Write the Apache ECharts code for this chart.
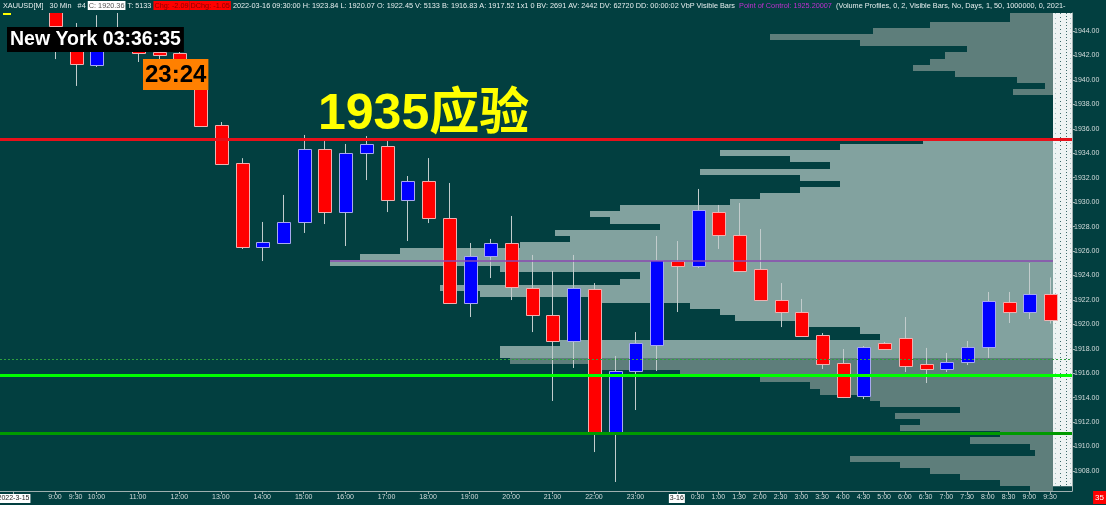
<!DOCTYPE html>
<html><head><meta charset="utf-8">
<script src="https://cdn.jsdelivr.net/npm/echarts@6/dist/echarts.min.js"></script>
<style>html,body{margin:0;padding:0;background:#023f40;}#c{width:1106px;height:505px;}</style>
</head><body><div id="c"></div>
<script>
// ---------- DATA ----------
const axisLabels = ['2022-3-15','','9:00','9:30','10:00','','11:00','','12:00','','13:00','','14:00','','15:00','','16:00','','17:00','','18:00','','19:00','','20:00','','21:00','','22:00','','23:00','',
  '3-16','0:30','1:00','1:30','2:00','2:30','3:00','3:30','4:00','4:30','5:00','6:00','6:30','7:00','7:30','8:00','8:30','9:00','9:30'];
const opens  = [null,null,1946.8,1942.37,1941.22,1943.7,1942.45,1942.30,1942.21,1940.5,1936.31,1933.2,1926.33,1926.66,1928.38,1934.35,1929.19,1934.02,1934.6,1930.18,1931.73,1928.70,1921.75,1925.59,1926.66,1922.98,1920.77,1918.64,1922.89,1911.19,1916.18,1918.31,1925.18,1924.78,1929.19,1927.31,1924.53,1921.99,1921.01,1919.13,1916.84,1914.14,1918.47,1918.88,1916.76,1916.35,1916.92,1918.15,1921.83,1921.01,1922.45];
const highs  = [null,null,1947.2,1944.66,1945.3,1945.8,1943.27,1942.6,1942.45,1940.7,1936.56,1933.6,1928.38,1930.59,1935.50,1935.0,1934.76,1935.41,1935.0,1932.14,1933.61,1931.57,1926.66,1926.99,1928.87,1925.68,1924.37,1925.68,1923.38,1917.41,1919.37,1927.23,1926.82,1931.08,1929.77,1929.93,1927.80,1923.38,1922.08,1919.29,1917.98,1918.23,1918.56,1920.60,1918.07,1917.66,1918.64,1922.65,1922.65,1925.02,1923.84];
const lows   = [null,null,1941.71,1939.51,1941.06,1942.5,1941.47,1941.47,1939.9,1936.15,1933.04,1926.17,1925.18,1926.58,1927.48,1928.21,1926.41,1931.81,1929.19,1926.82,1928.29,1921.67,1920.60,1923.79,1921.99,1919.37,1913.73,1916.43,1909.55,1907.10,1912.99,1916.18,1921.01,1924.61,1926.17,1924.28,1921.91,1919.78,1918.97,1916.35,1913.97,1913.89,1917.90,1916.10,1915.20,1916.10,1916.67,1917.25,1920.11,1920.44,1920.07];
const closes = [null,null,1944.42,1941.31,1942.37,1942.9,1942.29,1942.27,1940.5,1936.23,1933.12,1926.33,1926.74,1928.38,1934.35,1929.19,1934.02,1934.76,1930.18,1931.73,1928.70,1921.75,1925.59,1926.66,1923.06,1920.77,1918.64,1922.98,1911.19,1916.18,1918.47,1925.27,1924.78,1929.36,1927.31,1924.37,1921.99,1921.01,1919.05,1916.76,1914.06,1918.15,1917.98,1916.59,1916.35,1916.92,1918.15,1921.91,1921.01,1922.48,1920.36];

const yTickValues = [1908,1910,1912,1914,1916,1918,1920,1922,1924,1926,1928,1930,1932,1934,1936,1938,1940,1942,1944];

// volume-by-price profile (price level, volume)
const profilePrices = [1945.5,1945.0,1944.5,1944.0,1943.5,1943.0,1942.5,1942.0,1941.5,1941.0,1940.5,1940.0,1939.5,1939.0,1938.5,1938.0,1937.5,1937.0,1936.5,1936.0,1935.5,1935.0,1934.5,1934.0,1933.5,1933.0,1932.5,1932.0,1931.5,1931.0,1930.5,1930.0,1929.5,1929.0,1928.5,1928.0,1927.5,1927.0,1926.5,1926.0,1925.5,1925.0,1924.5,1924.0,1923.5,1923.0,1922.5,1922.0,1921.5,1921.0,1920.5,1920.0,1919.5,1919.0,1918.5,1918.0,1917.5,1917.0,1916.5,1916.0,1915.5,1915.0,1914.5,1914.0,1913.5,1913.0,1912.5,1912.0,1911.5,1911.0,1910.5,1910.0,1909.5,1909.0,1908.5,1908.0,1907.5,1907.0,1906.5];
const profileVolume = [43,43,123,180,283,193,86,108,123,140,98,36,8,40,0,0,0,0,0,0,0,130,213,333,263,223,353,253,213,253,293,323,433,463,443,393,498,483,533,653,693,723,553,413,433,613,573,453,363,333,318,253,193,173,493,553,553,543,453,373,293,243,233,183,173,93,158,133,153,53,83,23,18,203,153,123,93,53,23];
const profileStep = 0.5;
const valueAreaHigh = 1935.2, valueAreaLow = 1917.2, pointOfControl = 1925.20007;

const levelRed = 1935.17, levelGreen = 1915.80, levelDarkGreen = 1911.09, levelDotted = 1917.17;
const lastClose = 1920.36;

// ---------- LAYOUT ----------
const Y_MIN = 1906.363, Y_MAX = 1945.48;
const X_MIN = -0.65, X_MAX = 51.06;
const GRID_TOP = 13, GRID_BOTTOM = 14, RIGHT_MAIN = 34, RIGHT_PROFILE = 53;
const FONT = '"Liberation Sans", "DejaVu Sans", sans-serif';

const candleData = [];
for (let i = 0; i < opens.length; i++) {
  if (opens[i] == null) continue;
  candleData.push([i, opens[i], closes[i], lows[i], highs[i]]);
}
const xTickValues = [];
axisLabels.forEach((l, i) => { if (l) xTickValues.push(i); });

function renderCandle(params, api) {
  const i = api.value(0), o = api.value(1), c = api.value(2), l = api.value(3), h = api.value(4);
  const pO = api.coord([i, o]), pC = api.coord([i, c]), pL = api.coord([i, l]), pH = api.coord([i, h]);
  const bw = Math.round(api.size([1, 0])[0] * 0.63);
  const x = Math.round(pO[0]);
  const up = c >= o;
  const top = Math.round(Math.min(pO[1], pC[1]));
  const bot = Math.round(Math.max(pO[1], pC[1]));
  const hgt = Math.max(bot - top, 3);
  return {
    type: 'group', children: [
      { type: 'line', shape: { x1: x + 0.5, y1: pH[1], x2: x + 0.5, y2: pL[1] }, style: { stroke: '#c2cccc', lineWidth: 1 } },
      { type: 'rect', shape: { x: x - Math.floor(bw / 2) + 0.5, y: top + 0.5, width: bw, height: hgt },
        style: { fill: up ? '#0000ff' : '#ff0000', stroke: up ? '#a8a8f0' : '#f0b0b0', lineWidth: 1 } }
    ]
  };
}

function renderProfile(params, api) {
  const v = api.value(0), p = api.value(1);
  if (!v) return null;
  const a = api.coord([0, p + profileStep / 2]);
  const b = api.coord([v, p - profileStep / 2]);
  const y0 = Math.round(a[1]), y1 = Math.round(b[1]);
  const inVA = p >= valueAreaLow && p <= valueAreaHigh;
  return { type: 'rect', shape: { x: Math.round(b[0]), y: y0, width: Math.round(a[0]) - Math.round(b[0]), height: y1 - y0 },
    style: { fill: inVA ? '#82a29f' : '#5e7e7b' } };
}

function renderBand(params, api) {
  const cs = params.coordSys;
  const right = cs.x + cs.width;
  const w = RIGHT_PROFILE - RIGHT_MAIN;
  const left = right - w;
  const yTop = cs.y;
  const yBot = api.coord([0, profilePrices[profilePrices.length - 1] + profileStep / 2])[1];
  return {
    type: 'group', children: [
      { type: 'rect', shape: { x: left, y: yTop, width: w, height: yBot - yTop }, style: { fill: '#eef3f3' } },
      { type: 'line', shape: { x1: left + 7.5, y1: yTop, x2: left + 7.5, y2: yBot }, style: { stroke: '#3d6b6b', lineWidth: 1, lineDash: [1, 3] } },
      { type: 'line', shape: { x1: left + 13.5, y1: yTop, x2: left + 13.5, y2: yBot }, style: { stroke: '#3d6b6b', lineWidth: 1, lineDash: [1, 2] } },
      { type: 'line', shape: { x1: left + 2.5, y1: yTop, x2: left + 2.5, y2: yBot }, style: { stroke: '#9fbcbc', lineWidth: 1, lineDash: [1, 4] } },
      { type: 'line', shape: { x1: left + 17.5, y1: yTop, x2: left + 17.5, y2: yBot }, style: { stroke: '#9fbcbc', lineWidth: 1, lineDash: [1, 4] } }
    ]
  };
}

function hLine(v, style) {
  return [{ coord: [X_MIN, v], lineStyle: style }, { coord: [X_MAX, v] }];
}

const chart = echarts.init(document.getElementById('c'));
const S = { fontSize: 7.3, fontFamily: FONT, fontWeight: 'normal', color: '#e6eeee' };
chart.setOption({
  animation: false,
  backgroundColor: '#023f40',
  title: {
    left: 3, top: 1, padding: 0,
    text: '{t|XAUUSD[M]   30 Min   #4 }{b|C: 1920.36}{t| T: 5133 }{r|Chg: -2.09}{r|DChg: -1.05}{t| 2022-03-16 09:30:00 H: 1923.84 L: 1920.07 O: 1922.45 V: 5133 B: 1916.83 A: 1917.52 1x1 0 BV: 2691 AV: 2442 DV: 62720 DD: 00:00:02 VbP Visible Bars  }{p|Point of Control: 1925.20007}{t|  (Volume Profiles, 0, 2, Visible Bars, No, Days, 1, 50, 1000000, 0, 2021-}',
    textStyle: {
      fontSize: 7.3, fontFamily: FONT, fontWeight: 'normal', color: '#e6eeee',
      rich: {
        t: Object.assign({}, S),
        b: Object.assign({}, S, { color: '#555', backgroundColor: '#ffffff', padding: [1, 1] }),
        r: Object.assign({}, S, { color: '#8a0000', backgroundColor: '#ff0000', padding: [1, 1] }),
        p: Object.assign({}, S, { color: '#c030d0' })
      }
    }
  },
  grid: [
    { left: 0, right: RIGHT_MAIN, top: GRID_TOP, bottom: GRID_BOTTOM, outerBoundsMode: 'none', containLabel: false },
    { left: 0, right: RIGHT_PROFILE, top: GRID_TOP, bottom: GRID_BOTTOM, outerBoundsMode: 'none', containLabel: false }
  ],
  xAxis: [
    { type: 'value', gridIndex: 0, min: X_MIN, max: X_MAX, position: 'bottom',
      splitLine: { show: false },
      axisLine: { show: true, onZero: false, lineStyle: { color: '#9fb0b0', width: 1 } },
      axisTick: { show: true, length: 3, customValues: xTickValues, lineStyle: { color: '#9fb0b0' } },
      axisLabel: { customValues: xTickValues, margin: 3, fontSize: 7, fontFamily: FONT, color: '#d4dcdc',
        formatter: v => { const s = axisLabels[Math.round(v)]; return (s.indexOf('-') >= 0) ? '{d|' + s + '}' : s; },
        rich: { d: { backgroundColor: '#ffffff', color: '#222', fontSize: 7, fontFamily: FONT, padding: [1, 1] } } } },
    { type: 'value', gridIndex: 1, min: 0, max: 1053, inverse: true, show: false, splitLine: { show: false } }
  ],
  yAxis: [
    { type: 'value', gridIndex: 0, min: Y_MIN, max: Y_MAX, position: 'right',
      splitLine: { show: false },
      axisLine: { show: true, onZero: false, lineStyle: { color: '#9fb0b0', width: 1 } },
      axisTick: { show: true, length: 3, customValues: yTickValues, lineStyle: { color: '#9fb0b0' } },
      axisLabel: { customValues: yTickValues, margin: 2, fontSize: 7, fontFamily: FONT, color: '#d4dcdc', formatter: v => v.toFixed(2) } },
    { type: 'value', gridIndex: 1, min: Y_MIN, max: Y_MAX, show: false, splitLine: { show: false } }
  ],
  series: [
    { type: 'custom', name: 'profile', xAxisIndex: 1, yAxisIndex: 1, z: 1, clip: true, silent: true,
      renderItem: renderProfile,
      data: profilePrices.map((p, k) => [profileVolume[k], p]),
      markLine: { symbol: 'none', silent: true, label: { show: false },
        lineStyle: { color: '#8a48b0', width: 1.5, type: 'solid' },
        data: [[{ coord: [Math.max.apply(null, profileVolume), pointOfControl] }, { coord: [0, pointOfControl] }]] } },
    { type: 'custom', name: 'ladder', xAxisIndex: 0, yAxisIndex: 0, z: 1, silent: true,
      renderItem: renderBand, data: [[0]] },
    { type: 'custom', name: 'XAUUSD', xAxisIndex: 0, yAxisIndex: 0, z: 3, clip: true,
      renderItem: renderCandle, encode: { x: 0, y: [1, 2, 3, 4] }, data: candleData },
    { type: 'line', name: 'levels', xAxisIndex: 0, yAxisIndex: 0, z: 6, data: [], silent: true,
      markLine: { symbol: 'none', silent: true, label: { show: false },
        data: [
          hLine(levelDotted, { color: '#2fa03f', width: 1, type: [2, 2] }),
          hLine(levelRed, { color: '#e8101a', width: 3, type: 'solid' }),
          hLine(levelGreen, { color: '#00ff00', width: 3, type: 'solid' }),
          hLine(levelDarkGreen, { color: '#009a00', width: 3, type: 'solid' }),
          { yAxis: lastClose, lineStyle: { width: 0, opacity: 0 },
            label: { show: true, position: 'end', distance: 1, formatter: lastClose.toFixed(2), color: '#ff9a1a',
              backgroundColor: '#000000', padding: [1, 2], fontSize: 7.5, fontFamily: FONT } }
        ] } }
  ],
  graphic: [
    { type: 'rect', left: 3, top: 13, shape: { width: 8, height: 2 }, style: { fill: '#ffff00' }, z: 20 },
    { type: 'text', left: 7, top: 27, z: 20,
      style: { text: 'New York 03:36:35', fontSize: 19.5, fontWeight: 'bold', fontFamily: FONT, fill: '#ffffff',
        backgroundColor: '#000000', padding: [2, 3, 1, 3], lineHeight: 22 } },
    { type: 'text', left: 143, top: 59, z: 20,
      style: { text: '23:24', fontSize: 24, fontWeight: 'bold', fontFamily: FONT, fill: '#000000',
        backgroundColor: '#ff8000', padding: [3, 2, 2, 2], lineHeight: 26 } },
    { type: 'text', left: 318, top: 90, z: 20,
      style: { text: '1935应验', fontSize: 50, fontWeight: 'bold', fontFamily: '"Liberation Sans", "Noto Sans CJK SC", sans-serif', fill: '#ffff00' } },
    { type: 'text', right: 0, bottom: 1, z: 20,
      style: { text: '35', fontSize: 8, fontFamily: FONT, fill: '#ffffff', backgroundColor: '#ff0000', padding: [3, 2, 2, 2] } }
  ]
});
</script>
</body></html>
